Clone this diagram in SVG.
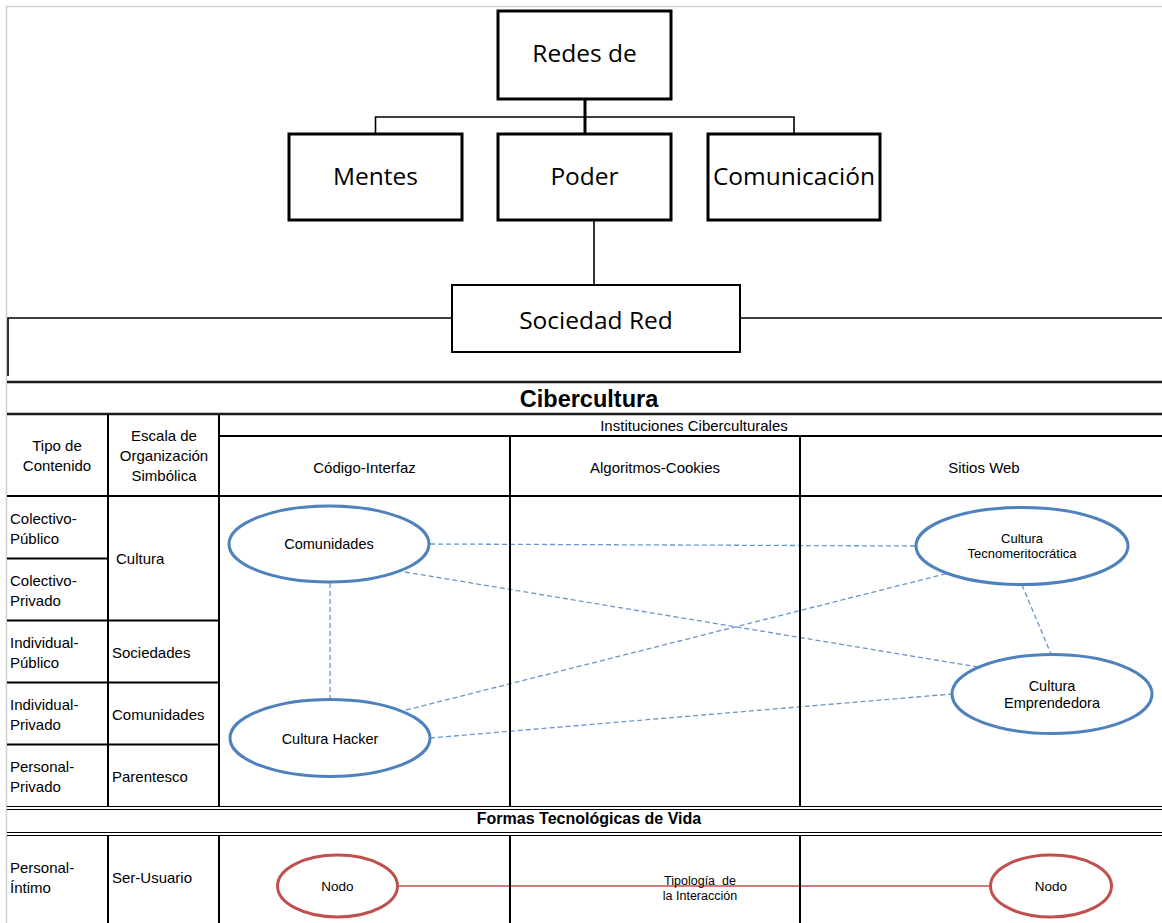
<svg xmlns="http://www.w3.org/2000/svg" width="1162" height="923" viewBox="0 0 1162 923">
  <style>
    .box { fill: #fff; stroke: #000; stroke-width: 3; }
    .box2 { fill: #fff; stroke: #000; stroke-width: 2; }
    .big { font-family: "Open Sans", "Noto Sans", sans-serif; font-size: 24.5px; fill: #000; text-anchor: middle; }
    .t { font-family: "Liberation Sans", Arial, sans-serif; font-size: 15px; fill: #000; }
    .c { text-anchor: middle; }
    .b { font-weight: bold; }
    .pre { white-space: pre; }
    .title { font-size: 23.5px; }
    .sub { font-size: 16px; }
    .e145 { font-size: 14.5px; }
    .e13 { font-size: 13px; }
    .e135 { font-size: 13.5px; }
    .e125 { font-size: 12.5px; }
    .grid { stroke: #000; stroke-width: 2; fill: none; }
    .heavy { stroke: #1a1a1a; stroke-width: 2.6; fill: none; }
    .thin { stroke: #000; stroke-width: 1.2; fill: none; }
    .frame { stroke: #cfcfcf; stroke-width: 1.5; fill: none; }
    .conn { stroke: #000; fill: none; }
    .blue { fill: #fff; stroke: #4F81BD; stroke-width: 3; }
    .red { fill: #fff; stroke: #C0504D; stroke-width: 3; }
    .dash { stroke: #6A96CE; stroke-width: 1.3; stroke-dasharray: 5 3; fill: none; }
    .redline { stroke: #C0504D; stroke-width: 1.3; fill: none; }
  </style>

  <rect x="0" y="0" width="1162" height="923" fill="#fff"/>

  <!-- page frame -->
  <path class="frame" d="M6.5 923 V6.5 H1162"/>

  <!-- connectors -->
  <g id="connectors">
    <path class="conn" stroke-width="3" d="M585 99 V134"/>
    <path class="conn" stroke-width="1.6" d="M375.5 134 V117 H794 V134"/>
    <path class="conn" stroke-width="1.6" d="M594 220 V285"/>
    <path class="conn" stroke-width="1.6" d="M8 376 V318 H452 M740 318 H1162"/>
    <line class="dash" x1="430" y1="544" x2="916" y2="546"/>
    <line class="dash" x1="405" y1="572" x2="978" y2="667"/>
    <line class="dash" x1="406" y1="710" x2="945" y2="574"/>
    <line class="dash" x1="430" y1="738" x2="952" y2="694"/>
    <line class="dash" x1="330" y1="583" x2="330" y2="699"/>
    <line class="dash" x1="1022" y1="585" x2="1051" y2="654"/>
    <line class="redline" x1="398" y1="886" x2="990" y2="886"/>
  </g>

  <!-- hierarchy -->
  <g id="redes">
    <rect class="box" x="498" y="11" width="173" height="88"/>
    <text class="big" x="584.5" y="62">Redes de</text>
  </g>
  <g id="mentes">
    <rect class="box" x="289" y="134" width="173" height="86"/>
    <text class="big" x="375.5" y="185">Mentes</text>
  </g>
  <g id="poder">
    <rect class="box" x="498" y="134" width="173" height="86"/>
    <text class="big" x="584.5" y="185">Poder</text>
  </g>
  <g id="comunicacion">
    <rect class="box" x="708" y="134" width="172" height="86"/>
    <text class="big" x="794" y="185">Comunicación</text>
  </g>
  <g id="sociedad-red">
    <rect class="box2" x="452" y="285" width="288" height="67"/>
    <text class="big" x="596" y="329">Sociedad Red</text>
  </g>

  <!-- table grid -->
  <g id="table">
    <line class="heavy" x1="7" y1="382" x2="1162" y2="382"/>
    <line class="heavy" x1="7" y1="414" x2="1162" y2="414"/>
    <line class="grid" x1="219" y1="436" x2="1162" y2="436"/>
    <line class="grid" x1="7" y1="496" x2="1162" y2="496"/>
    <line class="grid" x1="7" y1="558.5" x2="108" y2="558.5"/>
    <line class="grid" x1="7" y1="620.5" x2="219" y2="620.5"/>
    <line class="grid" x1="7" y1="682.5" x2="219" y2="682.5"/>
    <line class="grid" x1="7" y1="744.5" x2="219" y2="744.5"/>
    <line class="grid" x1="108" y1="414" x2="108" y2="806"/>
    <line class="grid" x1="219" y1="414" x2="219" y2="806"/>
    <line class="grid" x1="510" y1="436" x2="510" y2="806"/>
    <line class="grid" x1="800" y1="436" x2="800" y2="806"/>
    <line class="thin" x1="7" y1="806.5" x2="1162" y2="806.5"/>
    <line class="thin" x1="7" y1="809.5" x2="1162" y2="809.5"/>
    <line class="thin" x1="7" y1="832.5" x2="1162" y2="832.5"/>
    <line class="thin" x1="7" y1="835.5" x2="1162" y2="835.5"/>
    <line class="grid" x1="108" y1="836" x2="108" y2="923"/>
    <line class="grid" x1="219" y1="836" x2="219" y2="923"/>
    <line class="grid" x1="510" y1="836" x2="510" y2="923"/>
    <line class="grid" x1="800" y1="836" x2="800" y2="923"/>

    <text class="t b c title" x="589" y="407">Cibercultura</text>
    <text class="t c" x="57" y="451">Tipo de</text>
    <text class="t c" x="57" y="471">Contenido</text>
    <text class="t c" x="164" y="441">Escala de</text>
    <text class="t c" x="164" y="461">Organización</text>
    <text class="t c" x="164" y="481">Simbólica</text>
    <text class="t c" x="694" y="431">Instituciones Ciberculturales</text>
    <text class="t c" x="364.5" y="473">Código-Interfaz</text>
    <text class="t c" x="655" y="473">Algoritmos-Cookies</text>
    <text class="t c" x="984" y="473">Sitios Web</text>

    <text class="t" x="10" y="524">Colectivo-</text>
    <text class="t" x="10" y="544">Público</text>
    <text class="t" x="10" y="586">Colectivo-</text>
    <text class="t" x="10" y="606">Privado</text>
    <text class="t" x="10" y="648">Individual-</text>
    <text class="t" x="10" y="668">Público</text>
    <text class="t" x="10" y="710">Individual-</text>
    <text class="t" x="10" y="730">Privado</text>
    <text class="t" x="10" y="772">Personal-</text>
    <text class="t" x="10" y="792">Privado</text>

    <text class="t" x="116" y="564">Cultura</text>
    <text class="t" x="112" y="658">Sociedades</text>
    <text class="t" x="112" y="720">Comunidades</text>
    <text class="t" x="112" y="782">Parentesco</text>

    <text class="t b c sub" x="589" y="823.5">Formas Tecnológicas de Vida</text>
    <text class="t" x="10" y="873">Personal-</text>
    <text class="t" x="10" y="893">Íntimo</text>
    <text class="t" x="112" y="883">Ser-Usuario</text>
    <text class="t c e125 pre" x="700" y="885">Tipología  de</text>
    <text class="t c e125" x="700" y="900">la Interacción</text>
  </g>

  <!-- cultural nodes -->
  <g id="comunidades">
    <ellipse class="blue" cx="329" cy="544" rx="100" ry="38"/>
    <text class="t c e145" x="329" y="549">Comunidades</text>
  </g>
  <g id="cultura-hacker">
    <ellipse class="blue" cx="330" cy="738" rx="100" ry="38.5"/>
    <text class="t c e145" x="330" y="744">Cultura Hacker</text>
  </g>
  <g id="cultura-tecnomeritocratica">
    <ellipse class="blue" cx="1022" cy="546" rx="106" ry="38.5"/>
    <text class="t c e13" x="1022" y="543">Cultura</text>
    <text class="t c e13" x="1022" y="558">Tecnomeritocrática</text>
  </g>
  <g id="cultura-emprendedora">
    <ellipse class="blue" cx="1052" cy="694" rx="100" ry="39.5"/>
    <text class="t c e145" x="1052" y="691">Cultura</text>
    <text class="t c e145" x="1052" y="708">Emprendedora</text>
  </g>

  <!-- interaction nodes -->
  <g id="nodo-1">
    <ellipse class="red" cx="337.5" cy="886" rx="60" ry="31"/>
    <text class="t c e135" x="337.5" y="891">Nodo</text>
  </g>
  <g id="nodo-2">
    <ellipse class="red" cx="1051" cy="886" rx="60.5" ry="31"/>
    <text class="t c e135" x="1051" y="891">Nodo</text>
  </g>
</svg>
